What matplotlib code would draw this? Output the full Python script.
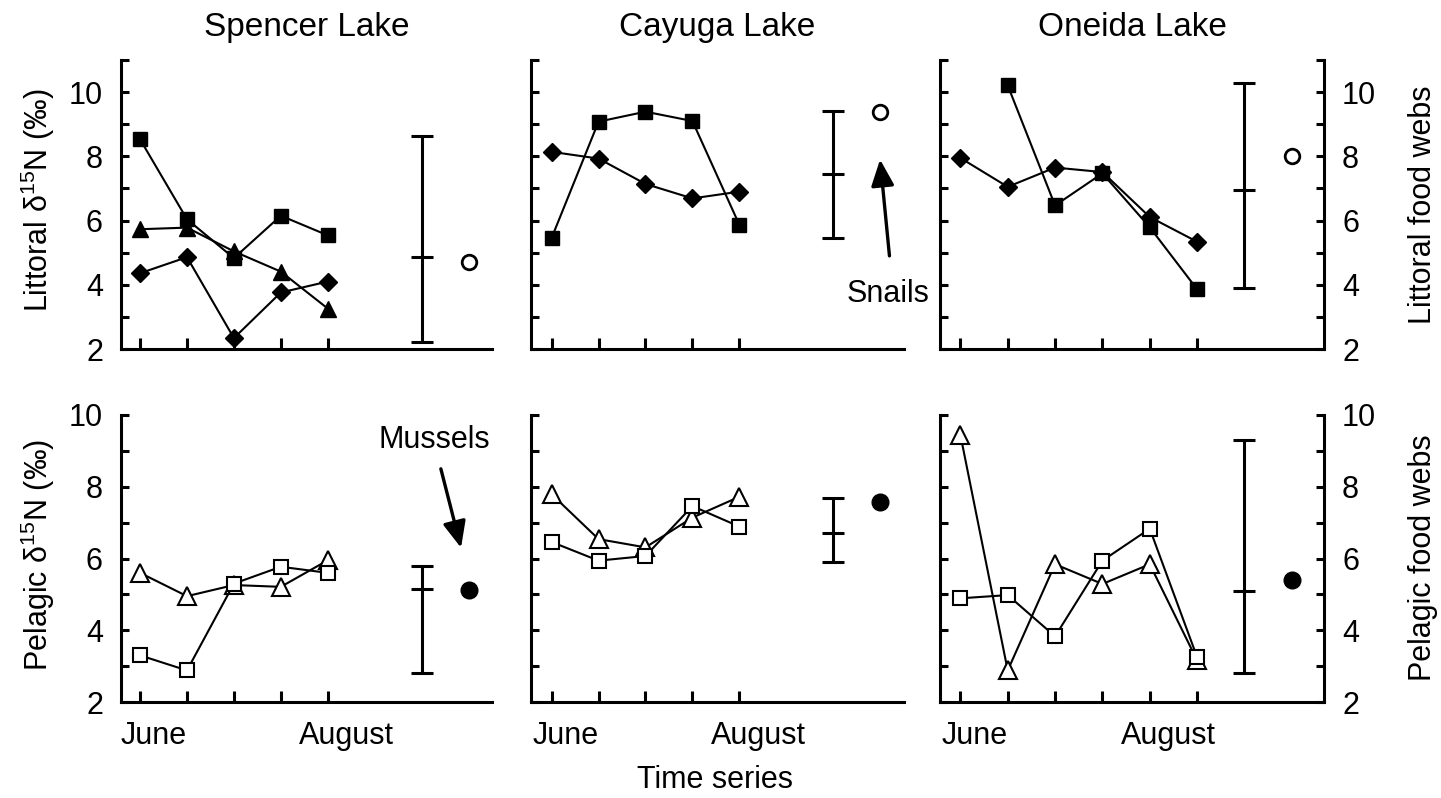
import matplotlib
matplotlib.use('Agg')
import matplotlib.pyplot as plt

plt.rcParams['font.family'] = ['Liberation Sans', 'DejaVu Sans']
plt.rcParams['mathtext.fontset'] = 'custom'
plt.rcParams['mathtext.rm'] = 'Liberation Sans'
plt.rcParams['mathtext.default'] = 'regular'

# ---- data ----
lakes = ['Spencer Lake', 'Cayuga Lake', 'Oneida Lake']

# littoral (top row)
sp_lit_x = [1, 2, 3, 4, 5]
sp_lit_sq = [8.53, 6.04, 4.83, 6.15, 5.54]
sp_lit_tri = [5.73, 5.78, 5.04, 4.41, 3.26]
sp_lit_dia = [4.36, 4.86, 2.34, 3.76, 4.10]
sp_lit_range = [2.23, 4.86, 8.64]   # low, mean, high
sp_lit_snail = 4.71

ca_lit_x = [1, 2, 3, 4, 5]
ca_lit_sq = [5.46, 9.08, 9.39, 9.10, 5.87]
ca_lit_dia = [8.14, 7.93, 7.14, 6.69, 6.90]
ca_lit_range = [5.46, 7.46, 9.41]
ca_lit_snail = 9.39

on_lit_x = [1, 2, 3, 4, 5, 6]
on_lit_sq_x = [2, 3, 4, 5, 6]
on_lit_sq = [10.21, 6.47, 7.47, 5.79, 3.86]
on_lit_dia = [7.95, 7.05, 7.65, 7.51, 6.11, 5.34]
on_lit_range = [3.89, 6.95, 10.28]
on_lit_snail = 8.0

# pelagic (bottom row)
sp_pel_tri = [5.60, 4.95, 5.26, 5.21, 5.95]
sp_pel_sq = [3.30, 2.88, 5.30, 5.77, 5.60]
sp_pel_range = [2.81, 5.16, 5.80]
sp_pel_mussel = 5.12

ca_pel_tri = [7.79, 6.54, 6.31, 7.14, 7.72]
ca_pel_sq = [6.46, 5.94, 6.07, 7.46, 6.89]
ca_pel_range = [5.91, 6.70, 7.69]
ca_pel_mussel = 7.57

on_pel_tri = [9.45, 2.88, 5.84, 5.29, 5.84, 3.16]
on_pel_sq = [4.89, 4.98, 3.83, 5.94, 6.83, 3.25]
on_pel_range = [2.81, 5.10, 9.31]
on_pel_mussel = 5.41

range_x = 7
snail_x = 8

W, H = 1441, 798
fig = plt.figure(figsize=(W / 100, H / 100), dpi=100)


def rect(l, t, r, b):
    return [l / W, 1 - b / H, (r - l) / W, (b - t) / H]


cols = [(121, 492, (0.594, 8.5)), (531, 904, (0.56, 8.51)), (940, 1324, (0.57, 8.68))]
rows = [(60, 349, 11), (415, 702, 10)]

lw_ax = 2.2
fs = 22


def style(ax, xlim, ytop, ntick, show_left, right=False):
    ax.set_xlim(*xlim)
    ax.set_ylim(2, ytop)
    for s in ['top', 'right']:
        ax.spines[s].set_visible(False)
    for s in ['left', 'bottom']:
        ax.spines[s].set_linewidth(lw_ax)
    ax.set_xticks(range(1, ntick + 1))
    ax.set_xticklabels([])
    ax.tick_params(axis='x', direction='in', length=8, width=lw_ax)
    yt = list(range(2, ytop + 1))
    ax.set_yticks(yt)
    labs = [str(v) if v % 2 == 0 and v <= 10 else '' for v in yt]
    if show_left:
        ax.set_yticklabels(labs, fontsize=fs)
    else:
        ax.set_yticklabels([])
    ax.tick_params(axis='y', direction='in', length=6, width=lw_ax, pad=13)
    if right:
        ax.spines['right'].set_visible(True)
        ax.spines['right'].set_linewidth(lw_ax)
        ax.tick_params(axis='y', right=True, labelright=True, labelleft=False)
        ax.set_yticklabels(labs, fontsize=fs)


def bar(ax, rng, ms=16):
    lo, mid, hi = rng
    ax.errorbar([range_x], [mid], yerr=[[mid - lo], [hi - mid]], fmt='_', color='k',
                ms=ms, mew=lw_ax, elinewidth=lw_ax, capsize=8, capthick=lw_ax)


arrow = dict(arrowstyle='-|>,head_length=0.8,head_width=0.35', lw=2.4, color='k',
             shrinkA=0, shrinkB=0, mutation_scale=20)

line_kw = dict(color='k', lw=1.5)
sq_f = dict(marker='s', ms=10.5, mfc='k', mec='k', **line_kw)
dia_f = dict(marker='D', ms=9.5, mfc='k', mec='k', **line_kw)
tri_f = dict(marker='^', ms=12, mfc='k', mec='k', **line_kw)
sq_o = dict(marker='s', ms=10.5, mfc='white', mec='k', mew=1.5, **line_kw)
tri_o = dict(marker='^', ms=13, mfc='white', mec='k', mew=1.5, **line_kw)

axes = {}
for r, (t, b, ytop) in enumerate(rows):
    for c, (l, rr, xl) in enumerate(cols):
        ax = fig.add_axes(rect(l, t, rr, b))
        axes[(r, c)] = ax
        ntick = 6 if c == 2 else 5
        style(ax, xl, ytop, ntick, c == 0, right=(c == 2))

# top row: littoral
ax = axes[(0, 0)]
ax.plot(sp_lit_x, sp_lit_sq, **sq_f)
ax.plot(sp_lit_x, sp_lit_tri, **tri_f)
ax.plot(sp_lit_x, sp_lit_dia, **dia_f)
bar(ax, sp_lit_range)
ax.plot([snail_x], [sp_lit_snail], 'o', ms=10.5, mfc='white', mec='k', mew=2)

ax = axes[(0, 1)]
ax.plot(ca_lit_x, ca_lit_sq, **sq_f)
ax.plot(ca_lit_x, ca_lit_dia, **dia_f)
bar(ax, ca_lit_range)
ax.plot([snail_x], [ca_lit_snail], 'o', ms=10.5, mfc='white', mec='k', mew=2)
ax.annotate('', xy=(8.0, 7.9), xytext=(8.2, 4.9), arrowprops=arrow, annotation_clip=False)
ax.text(8.17, 3.7, 'Snails', fontsize=fs, ha='center', va='center')

ax = axes[(0, 2)]
ax.plot(on_lit_sq_x, on_lit_sq, **sq_f)
ax.plot(on_lit_x, on_lit_dia, **dia_f)
bar(ax, on_lit_range)
ax.plot([snail_x], [on_lit_snail], 'o', ms=10.5, mfc='white', mec='k', mew=2)

# bottom row: pelagic
ax = axes[(1, 0)]
ax.plot(sp_lit_x, sp_pel_tri, **tri_o)
ax.plot(sp_lit_x, sp_pel_sq, **sq_o)
bar(ax, sp_pel_range)
ax.plot([snail_x], [sp_pel_mussel], 'o', ms=12, color='k')
ax.annotate('', xy=(7.84, 6.3), xytext=(7.41, 8.5), arrowprops=arrow)
ax.text(7.28, 9.3, 'Mussels', fontsize=fs, ha='center', va='center')

ax = axes[(1, 1)]
ax.plot(ca_lit_x, ca_pel_tri, **tri_o)
ax.plot(ca_lit_x, ca_pel_sq, **sq_o)
bar(ax, ca_pel_range)
ax.plot([snail_x], [ca_pel_mussel], 'o', ms=12, color='k')

ax = axes[(1, 2)]
ax.plot(on_lit_x, on_pel_tri, **tri_o)
ax.plot(on_lit_x, on_pel_sq, **sq_o)
bar(ax, on_pel_range)
ax.plot([snail_x], [on_pel_mussel], 'o', ms=12, color='k')

# titles, month labels
for c, name in enumerate(lakes):
    axes[(0, c)].set_title(name, fontsize=24, pad=17)
    ax = axes[(1, c)]
    tr = ax.get_xaxis_transform()
    ax.text(1.3, -0.12, 'June', transform=tr, fontsize=fs, ha='center', va='center')
    ax.text(5.4, -0.12, 'August', transform=tr, fontsize=fs, ha='center', va='center')

fig.text(715 / W, 1 - 780 / H, 'Time series', fontsize=fs, ha='center', va='center')
fig.text(38 / W, 1 - 200 / H, 'Littoral δ$^{15}$N (‰)', fontsize=fs, rotation=90,
         ha='center', va='center')
fig.text(38 / W, 1 - 555 / H, 'Pelagic δ$^{15}$N (‰)', fontsize=fs, rotation=90,
         ha='center', va='center')
fig.text(1423 / W, 1 - 205 / H, 'Littoral food webs', fontsize=fs, rotation=90,
         ha='center', va='center')
fig.text(1423 / W, 1 - 558 / H, 'Pelagic food webs', fontsize=fs, rotation=90,
         ha='center', va='center')

fig.savefig('out.png', dpi=100)
